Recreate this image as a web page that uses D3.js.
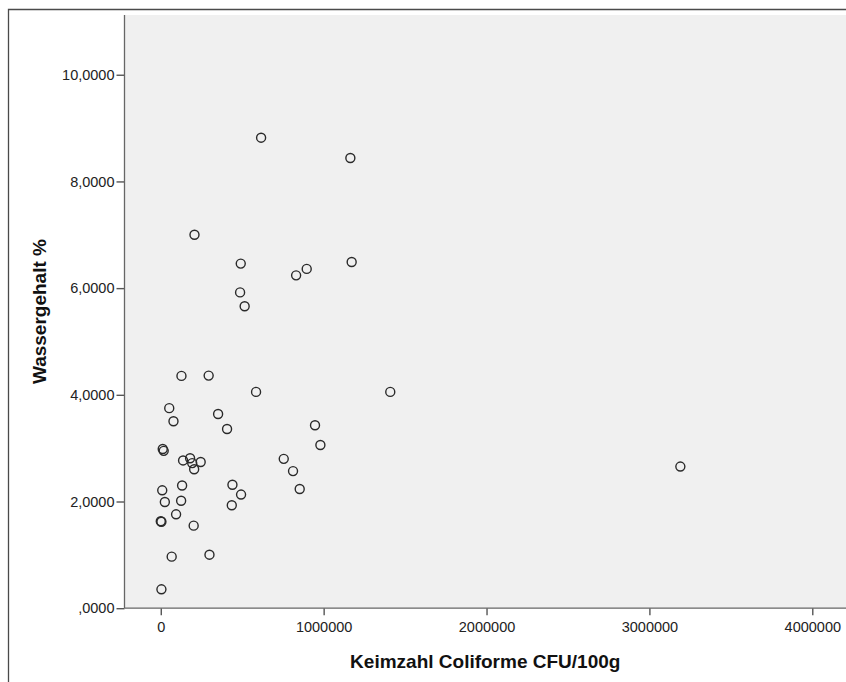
<!DOCTYPE html>
<html>
<head>
<meta charset="utf-8">
<script src="https://cdn.jsdelivr.net/npm/d3@7"></script>
<style>
  html, body { margin: 0; padding: 0; background: #fff; }
  svg { display: block; font-family: "Liberation Sans", Arial, sans-serif; }
</style>
</head>
<body>
<svg id="chart" width="846" height="682"></svg>
<script>
// Keimzahl Coliforme (CFU/100g) per sample
const keimzahl = [
  616000, 1164000, 207000, 491000, 1172000, 831000, 896000, 487000, 515000,
  127000, 294000, 585000, 1409000, 52000, 78000, 352000, 407000, 947000,
  980000, 12000, 18000, 137000, 180000, 193000, 245000, 205000, 755000,
  812000, 853000, 3190000, 9000, 131000, 440000, 493000, 25000, 125000,
  436000, 94000, 0, 4000, 202000, 67000, 299000, 4000
];
// Wassergehalt (%) per sample
const wassergehalt = [
  8.82, 8.44, 7.00, 6.46, 6.49, 6.24, 6.36, 5.92, 5.66,
  4.355, 4.36, 4.055, 4.055, 3.75, 3.505, 3.64, 3.36, 3.43,
  3.06, 2.985, 2.95, 2.77, 2.81, 2.72, 2.74, 2.605, 2.80,
  2.57, 2.235, 2.655, 2.21, 2.30, 2.315, 2.13, 1.99, 2.015,
  1.93, 1.76, 1.63, 1.62, 1.547, 0.966, 1.003, 0.354
];
const xTicks = [0, 1000000, 2000000, 3000000, 4000000];
const yTicks = [0, 2, 4, 6, 8, 10];
const xDomain = [-222700, 4207000];
const yDomain = [0, 11.12];
const xTitle = "Keimzahl Coliforme CFU/100g";
const yTitle = "Wassergehalt %";

const svg = d3.select("#chart");
const W = 846, H = 682;
const plot = { left: 124.5, top: 15, right: 846, bottom: 608.2 };

// outer frame
svg.append("path")
  .attr("d", `M8.5,${H} V9.5 H${W}`)
  .attr("fill", "none").attr("stroke", "#4a4a4a").attr("stroke-width", 1.3);

const x = d3.scaleLinear().domain(xDomain).range([plot.left, plot.right]);
const y = d3.scaleLinear().domain(yDomain).range([plot.bottom, plot.top]);

// plot background
svg.append("rect")
  .attr("x", plot.left).attr("y", plot.top)
  .attr("width", plot.right - plot.left).attr("height", plot.bottom - plot.top)
  .attr("fill", "#f0f0f0");

// axes
const fmtY = v => {
  const s = d3.format(".4f")(v).replace(".", ",");
  return s.startsWith("0,") ? s.slice(1) : s;
};
const yAxis = svg.append("g")
  .attr("transform", `translate(${plot.left},0)`)
  .call(d3.axisLeft(y).tickValues(yTicks).tickFormat(fmtY).tickSize(8).tickPadding(2));
const xAxis = svg.append("g")
  .attr("transform", `translate(0,${plot.bottom})`)
  .call(d3.axisBottom(x).tickValues(xTicks).tickFormat(d3.format("d")).tickSize(7).tickPadding(7));

[yAxis, xAxis].forEach(a => {
  a.select(".domain").remove();
  a.selectAll(".tick line").attr("stroke", "#555").attr("stroke-width", 1.4);
  a.selectAll(".tick text").attr("fill", "#222").style("font-size", "14.5px")
    .style("font-family", "'Liberation Sans', Arial, sans-serif");
});

// axis lines
svg.append("line")
  .attr("x1", plot.left).attr("x2", plot.left)
  .attr("y1", plot.top).attr("y2", plot.bottom)
  .attr("stroke", "#666").attr("stroke-width", 1.3);
svg.append("line")
  .attr("x1", plot.left).attr("x2", plot.right)
  .attr("y1", plot.bottom).attr("y2", plot.bottom)
  .attr("stroke", "#666").attr("stroke-width", 1.3);

// points
svg.append("g").selectAll("circle")
  .data(keimzahl.map((k, i) => [k, wassergehalt[i]]))
  .join("circle")
  .attr("cx", d => x(d[0]))
  .attr("cy", d => y(d[1]))
  .attr("r", 4.5)
  .attr("fill", "none")
  .attr("stroke", "#2a2a2a")
  .attr("stroke-width", 1.4);

// titles
svg.append("text")
  .attr("x", (plot.left + plot.right) / 2).attr("y", 668)
  .attr("text-anchor", "middle")
  .style("font-size", "19px").style("font-weight", "bold").attr("fill", "#111")
  .text(xTitle);
svg.append("text")
  .attr("transform", `translate(46,${(plot.top + plot.bottom) / 2}) rotate(-90)`)
  .attr("text-anchor", "middle")
  .style("font-size", "19px").style("font-weight", "bold").attr("fill", "#111")
  .text(yTitle);
</script>
</body>
</html>
